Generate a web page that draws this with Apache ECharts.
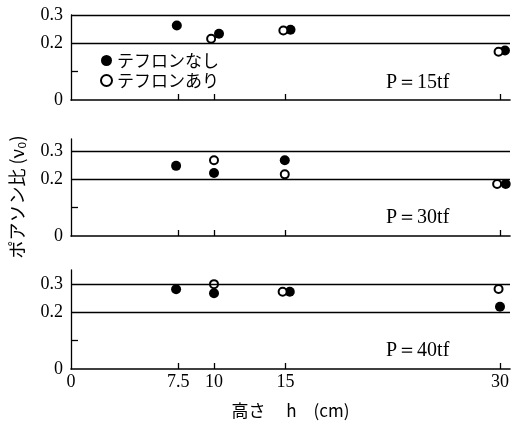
<!DOCTYPE html>
<html>
<head>
<meta charset="utf-8">
<script src="https://cdn.jsdelivr.net/npm/echarts@6/dist/echarts.min.js"></script>
<style>
  html, body { margin: 0; padding: 0; background: #fff; }
  #main { width: 512px; height: 421px; }
</style>
</head>
<body>
<div id="main"></div>
<script>
// panels (load P), x = height h (cm), y = poisson ratio
var panels = ['P＝15tf', 'P＝30tf', 'P＝40tf'];
var xTicks = [0, 7.5, 10, 15, 30];
var yTickLabels = [0, 0.2, 0.3];
var refLines = [0.2, 0.3];

// テフロンなし (filled)
var noTeflon = [
  [[7.4, 0.263], [10.35, 0.234], [15.35, 0.248], [30.35, 0.175]],
  [[7.35, 0.248], [10, 0.223], [14.95, 0.268], [30.4, 0.184]],
  [[7.35, 0.282], [10, 0.268], [15.3, 0.273], [30, 0.22]]
];
// テフロンあり (open)
var withTeflon = [
  [[9.8, 0.216], [14.85, 0.245], [29.9, 0.17]],
  [[10, 0.268], [14.95, 0.218], [29.8, 0.184]],
  [[10, 0.300], [14.8, 0.273], [29.9, 0.283]]
];

var serif = '"Liberation Serif", "DejaVu Serif", serif';
var jp = '"Noto Sans CJK JP", sans-serif';

var grids = [
  { left: 71, right: 2, top: 15, height: 85 },
  { left: 71, right: 2, top: 139, height: 97 },
  { left: 71, right: 2, top: 270, height: 99 }
];
var yMax = [0.3, 0.343, 0.35];

var xAxes = [], yAxes = [], series = [];
for (var i = 0; i < 3; i++) {
  var last = i === 2;
  xAxes.push({
    type: 'value', gridIndex: i, min: 0, max: 30.7,
    axisLine: { lineStyle: { color: '#000', width: 1.6 } },
    axisTick: { show: true, inside: true, length: 6, customValues: [7.5, 10, 15, 30],
      lineStyle: { color: '#000', width: 1.3 } },
    axisLabel: { show: last, customValues: xTicks, color: '#000', fontSize: 18,
      fontFamily: serif, margin: 4 },
    splitLine: { show: false },
    name: last ? '高さ　 h　(cm)' : '', nameLocation: 'middle', nameGap: 33,
    nameTextStyle: { color: '#000', fontSize: 17, fontFamily: jp }
  });
  yAxes.push({
    type: 'value', gridIndex: i, min: 0, max: yMax[i],
    axisLine: { show: true, lineStyle: { color: '#000', width: 1.3 } },
    axisTick: { show: true, inside: true, length: 7, customValues: [0.1],
      lineStyle: { color: '#000', width: 1.3 } },
    axisLabel: { customValues: yTickLabels, color: '#000', fontSize: 18,
      fontFamily: serif, margin: 8,
      formatter: function (v) { return v === 0 ? '0' : v.toFixed(1); } },
    splitLine: { show: false }
  });
  series.push({
    name: 'テフロンなし', type: 'scatter', xAxisIndex: i, yAxisIndex: i,
    symbol: 'circle', symbolSize: 10, z: 3,
    itemStyle: { color: '#000', opacity: 1 },
    data: noTeflon[i],
    markLine: {
      silent: true, symbol: 'none', label: { show: false },
      lineStyle: { color: '#000', width: 1.3, type: 'solid' },
      data: refLines.map(function (v) { return { yAxis: v }; })
    }
  });
  series.push({
    name: 'テフロンあり', type: 'scatter', xAxisIndex: i, yAxisIndex: i,
    symbol: 'circle', symbolSize: 8, z: 4,
    itemStyle: { color: '#fff', borderColor: '#000', borderWidth: 2, opacity: 1 },
    data: withTeflon[i]
  });
}

var graphics = panels.map(function (t, i) {
  var yPos = [84, 219, 352][i];
  return {
    type: 'text', left: 386, top: yPos - 11,
    style: { text: t, fontSize: 20, fontFamily: serif, fill: '#000' }
  };
});
graphics.push({
  type: 'text', x: 17, y: 197, rotation: Math.PI / 2,
  style: { text: 'ポアソン比 (ν₀)', fontSize: 18, fontFamily: jp, fill: '#000',
    align: 'center', verticalAlign: 'middle' }
});

var chart = echarts.init(document.getElementById('main'));
chart.setOption({
  animation: false,
  backgroundColor: '#fff',
  grid: grids,
  xAxis: xAxes,
  yAxis: yAxes,
  legend: {
    left: 95, top: 47, orient: 'vertical', itemGap: 3, itemWidth: 11, itemHeight: 11,
    icon: 'circle',
    textStyle: { color: '#000', fontSize: 17, fontFamily: jp },
    data: ['テフロンなし', 'テフロンあり']
  },
  graphic: graphics,
  series: series
});
</script>
</body>
</html>
